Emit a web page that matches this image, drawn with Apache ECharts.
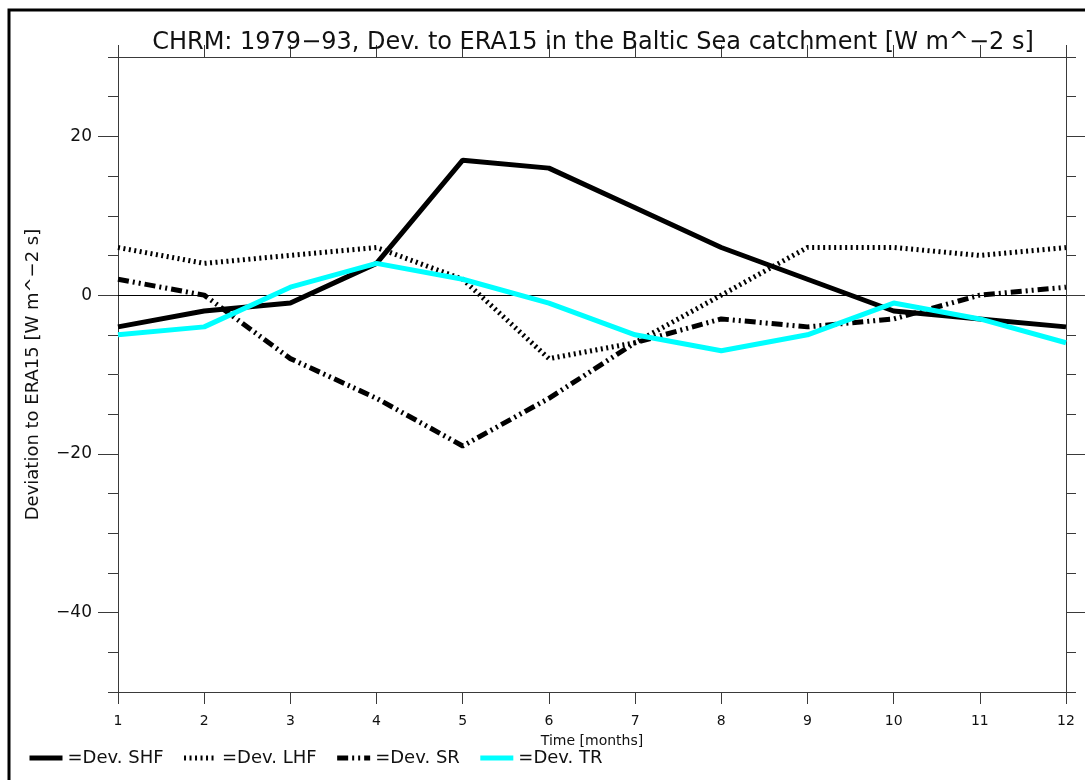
<!DOCTYPE html>
<html>
<head>
<meta charset="utf-8">
<title>CHRM deviation to ERA15</title>
<script src="https://cdn.jsdelivr.net/npm/echarts@6/dist/echarts.min.js"></script>
<style>
  html, body { margin: 0; padding: 0; background: #fff; }
  #chart { width: 1085px; height: 780px; }
</style>
</head>
<body>
<div id="chart"></div>
<script>
// Monthly deviations (CHRM 1979-93 minus ERA15), Baltic Sea catchment
const months = [1, 2, 3, 4, 5, 6, 7, 8, 9, 10, 11, 12];
const devSHF = [-4, -2, -1, 4, 17, 16, 11, 6, 2, -2, -3, -4];
const devLHF = [6, 4, 5, 6, 2, -8, -6, 0, 6, 6, 5, 6];
const devSR  = [2, 0, -8, -13, -19, -13, -6, -3, -4, -3, 0, 1];
const devTR  = [-5, -4, 1, 4, 2, -1, -5, -7, -5, -1, -3, -6];

const seriesNames = ['Dev. SHF', 'Dev. LHF', 'Dev. SR', 'Dev. TR'];
const yMajorTicks = [-40, -20, 0, 20];
const yRange = [-50, 30];

const FONT = "'DejaVu Sans', sans-serif";
const AXIS_COLOR = '#3a3a3a';

const pairs = vals => months.map((m, i) => [m, vals[i]]);

const chart = echarts.init(document.getElementById('chart'), null, { renderer: 'canvas' });

// y axes: minor ticks every 5 (left/right) plus longer major ticks at labelled values
function yAxisDef(position, major, withLabels, withName) {
  const ax = {
    type: 'value',
    position: position,
    min: yRange[0],
    max: yRange[1],
    interval: 5,
    splitLine: { show: false },
    axisLine: { show: !major, onZero: false, lineStyle: { color: AXIS_COLOR, width: 1 } },
    axisTick: {
      show: true,
      inside: false,
      length: major ? 20 : 10,
      lineStyle: { color: AXIS_COLOR, width: 1 }
    },
    axisLabel: { show: false }
  };
  if (major) ax.axisTick.customValues = yMajorTicks;
  if (withLabels) {
    ax.axisLabel = {
      show: true,
      margin: 26,
      fontFamily: FONT,
      fontSize: 17,
      color: '#111',
      formatter: v => (yMajorTicks.indexOf(v) >= 0 ? String(v).replace('-', '\u2212') : '')
    };
  }
  if (withName) {
    ax.name = 'Deviation to ERA15 [W m^\u22122 s]';
    ax.nameLocation = 'middle';
    ax.nameRotate = 90;
    ax.nameGap = 76;
    ax.nameTextStyle = { fontFamily: FONT, fontSize: 18, color: '#111' };
  }
  return ax;
}

function xAxisDef(position, withLabels) {
  const ax = {
    type: 'value',
    position: position,
    min: 1,
    max: 12,
    interval: 1,
    splitLine: { show: false },
    axisLine: { show: true, onZero: false, lineStyle: { color: AXIS_COLOR, width: 1 } },
    axisTick: { show: true, inside: false, length: 12, lineStyle: { color: AXIS_COLOR, width: 1 } },
    axisLabel: { show: false }
  };
  if (withLabels) {
    ax.axisLabel = { show: true, margin: 22, fontFamily: FONT, fontSize: 14, color: '#111' };
    ax.name = 'Time [months]';
    ax.nameLocation = 'middle';
    ax.nameGap = 42;
    ax.nameTextStyle = { fontFamily: FONT, fontSize: 14, color: '#111' };
  }
  return ax;
}

const lineStyles = [
  { color: '#000000', width: 5, type: 'solid' },
  { color: '#000000', width: 5, type: [2, 3.5] },
  { color: '#000000', width: 5, type: [11, 4, 2, 4, 2, 4] },
  { color: '#00ffff', width: 5, type: 'solid' }
];
const seriesValues = [devSHF, devLHF, devSR, devTR];

const series = seriesValues.map((vals, i) => ({
  name: seriesNames[i],
  type: 'line',
  xAxisIndex: 0,
  yAxisIndex: 0,
  data: pairs(vals),
  symbol: 'none',
  smooth: false,
  lineStyle: lineStyles[i],
  itemStyle: { color: lineStyles[i].color },
  z: 3 + i,
  animation: false
}));

// thin zero reference line
series[0].markLine = {
  silent: true,
  symbol: 'none',
  label: { show: false },
  lineStyle: { color: '#000', width: 1, type: 'solid' },
  data: [{ yAxis: 0 }],
  z: 1,
  animation: false
};

const option = {
  backgroundColor: '#ffffff',
  animation: false,
  title: {
    text: 'CHRM: 1979\u221293, Dev. to ERA15 in the Baltic Sea catchment [W m^\u22122 s]',
    left: 588,
    textAlign: 'center',
    top: 26,
    textStyle: { fontFamily: FONT, fontSize: 24, fontWeight: 'normal', color: '#111' }
  },
  grid: { left: 118, right: 19, top: 57, bottom: 88, containLabel: false },
  xAxis: [xAxisDef('bottom', true), xAxisDef('top', false)],
  yAxis: [
    yAxisDef('left', false, true, true),
    yAxisDef('left', true, false, false),
    yAxisDef('right', false, false, false),
    yAxisDef('right', true, false, false)
  ],
  legend: {
    show: true,
    left: 27,
    top: 749,
    padding: 0,
    orient: 'horizontal',
    itemWidth: 33,
    itemHeight: 14,
    itemGap: 18,
    data: seriesNames,
    formatter: name => '=' + name,
    itemStyle: { opacity: 0, borderWidth: 0 },
    lineStyle: { width: 5 },
    textStyle: { fontFamily: FONT, fontSize: 18, color: '#111' }
  },
  graphic: [
    {
      type: 'rect',
      silent: true,
      shape: { x: 9, y: 10, width: 1200, height: 900 },
      style: { fill: null, stroke: '#000', lineWidth: 3 },
      z: 100
    }
  ],
  series: series
};

chart.setOption(option);
</script>
</body>
</html>
